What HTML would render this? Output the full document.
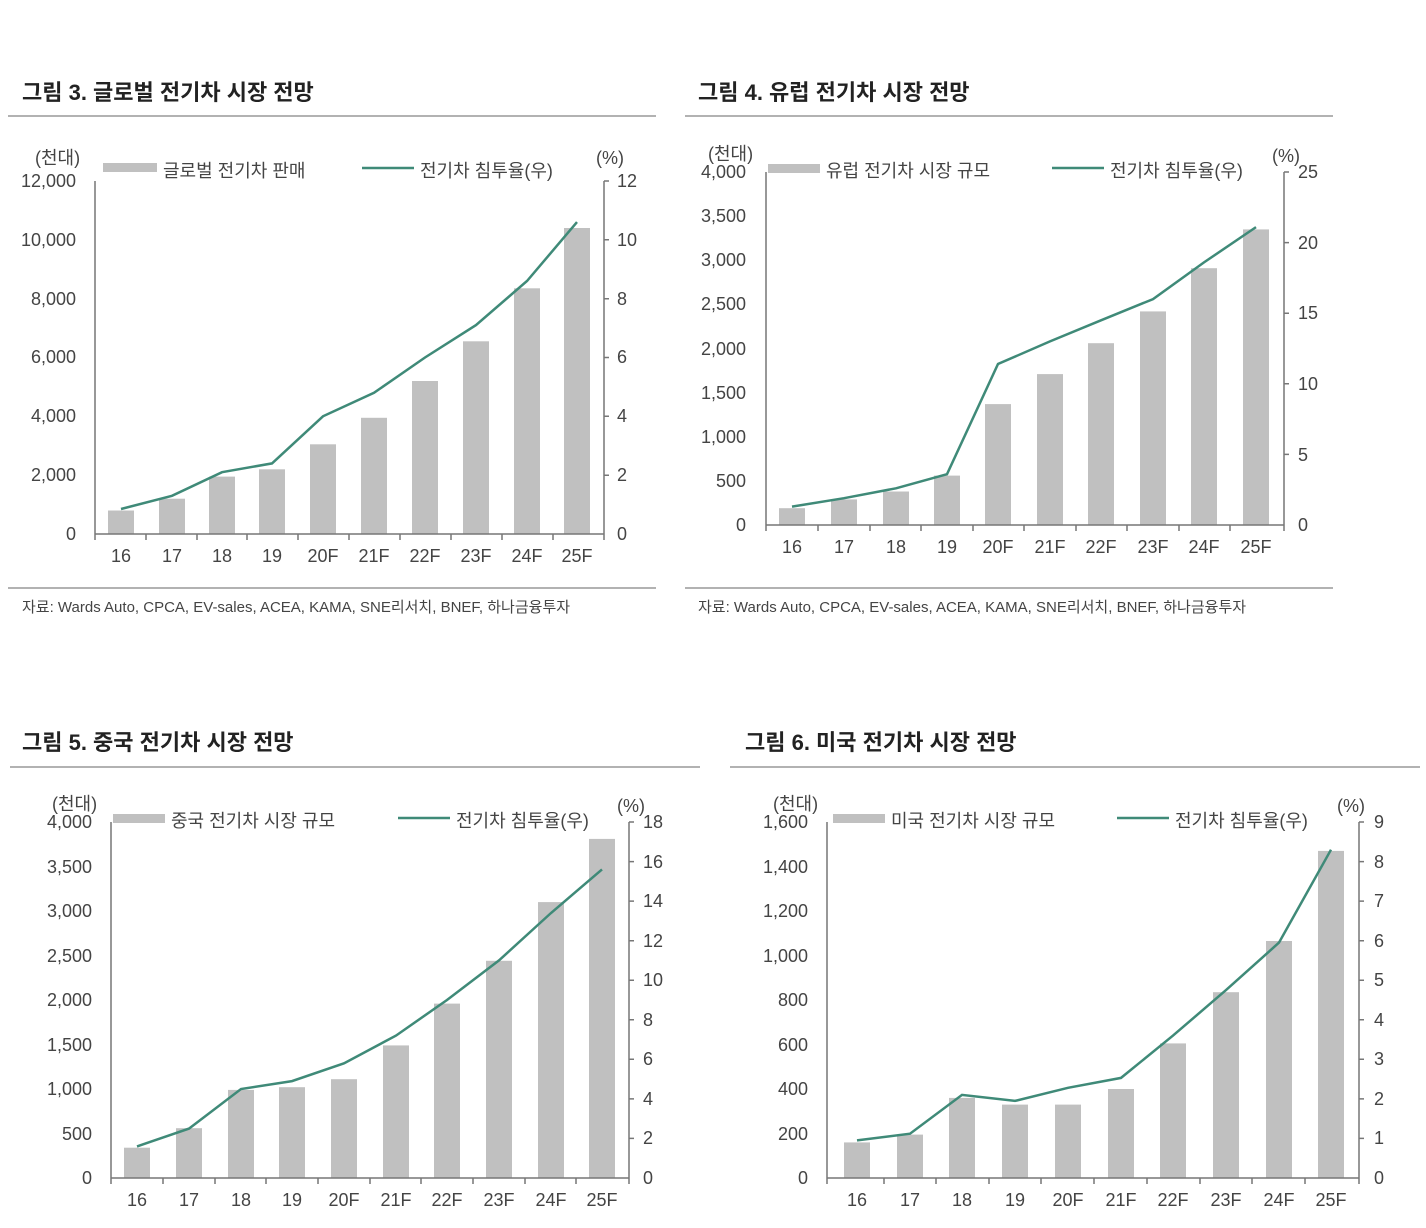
<!DOCTYPE html>
<html><head><meta charset="utf-8"><style>
html,body{margin:0;padding:0;background:#fff;}
svg{display:block;font-family:"Liberation Sans","Noto Sans CJK KR",sans-serif;}
.t{font-size:22px;font-weight:bold;fill:#222;}
.k{font-size:18px;fill:#444;}
.l{font-size:18px;fill:#444;}
.s{font-size:15px;fill:#444;}
.b{fill:#c0c0c0;}
.ln{fill:none;stroke:#3f8a78;stroke-width:2.5;}
.ax{stroke:#777;stroke-width:1.5;fill:none;}
.hr{stroke:#999;stroke-width:1.5;}
</style></head><body>
<svg width="1426" height="1228" viewBox="0 0 1426 1228" xmlns="http://www.w3.org/2000/svg">
<!-- Chart 1 -->
<text x="22" y="100" class="t">그림 3. 글로벌 전기차 시장 전망</text>
<line x1="8" y1="116" x2="656" y2="116" class="hr"/>
<text x="35" y="164" class="k" font-size="16">(천대)</text>
<text x="596" y="164" class="k" font-size="16">(%)</text>
<rect x="103" y="163" width="54" height="9" class="b"/>
<text x="163" y="177" class="l">글로벌 전기차 판매</text>
<line x1="362" y1="168" x2="414" y2="168" class="ln"/>
<text x="420" y="177" class="l">전기차 침투율(우)</text>
<g class="b">
<rect x="108" y="510.5" width="26" height="23.5"/><rect x="159" y="498.7" width="26" height="35.3"/><rect x="209" y="476.6" width="26" height="57.4"/><rect x="259" y="469.3" width="26" height="64.7"/><rect x="310" y="444.3" width="26" height="89.7"/><rect x="361" y="417.8" width="26" height="116.2"/><rect x="412" y="381" width="26" height="153"/><rect x="463" y="341.3" width="26" height="192.7"/><rect x="514" y="288.3" width="26" height="245.7"/><rect x="564" y="228" width="26" height="306"/>
</g>
<polyline class="ln" points="121,509 172,495.8 222,472.2 272,463.4 323,416.3 374,392.8 425,357.5 476,325.1 527,281 577,222.1"/>
<path class="ax" d="M95,181V534H604V181 M95,534v6 M146,534v6 M197,534v6 M247,534v6 M298,534v6 M349,534v6 M400,534v6 M451,534v6 M502,534v6 M553,534v6 M604,534v6 M604,181h5 M604,239.8h5 M604,298.7h5 M604,357.5h5 M604,416.3h5 M604,475.2h5"/>
<g class="k" text-anchor="end">
<text x="76" y="540">0</text><text x="76" y="481">2,000</text><text x="76" y="422">4,000</text><text x="76" y="363">6,000</text><text x="76" y="305">8,000</text><text x="76" y="246">10,000</text><text x="76" y="187">12,000</text>
</g>
<g class="k">
<text x="617" y="540">0</text><text x="617" y="481">2</text><text x="617" y="422">4</text><text x="617" y="363">6</text><text x="617" y="305">8</text><text x="617" y="246">10</text><text x="617" y="187">12</text>
</g>
<g class="k" text-anchor="middle">
<text x="121" y="562">16</text><text x="172" y="562">17</text><text x="222" y="562">18</text><text x="272" y="562">19</text><text x="323" y="562">20F</text><text x="374" y="562">21F</text><text x="425" y="562">22F</text><text x="476" y="562">23F</text><text x="527" y="562">24F</text><text x="577" y="562">25F</text>
</g>
<line x1="8" y1="588" x2="656" y2="588" class="hr"/>
<text x="22" y="612" class="s">자료: Wards Auto, CPCA, EV-sales, ACEA, KAMA, SNE리서치, BNEF, 하나금융투자</text>

<!-- Chart 2 -->
<text x="698" y="100" class="t">그림 4. 유럽 전기차 시장 전망</text>
<line x1="685" y1="116" x2="1333" y2="116" class="hr"/>
<text x="708" y="160" class="k" font-size="16">(천대)</text>
<text x="1272" y="162" class="k" font-size="16">(%)</text>
<rect x="768" y="164" width="52" height="9" class="b"/>
<text x="826" y="177" class="l">유럽 전기차 시장 규모</text>
<line x1="1052" y1="168" x2="1104" y2="168" class="ln"/>
<text x="1110" y="177" class="l">전기차 침투율(우)</text>
<g class="b">
<rect x="779" y="508.2" width="26" height="16.8"/><rect x="831" y="499.4" width="26" height="25.6"/><rect x="883" y="491.5" width="26" height="33.5"/><rect x="934" y="475.6" width="26" height="49.4"/><rect x="985" y="404.1" width="26" height="120.9"/><rect x="1037" y="374.1" width="26" height="150.9"/><rect x="1088" y="343.2" width="26" height="181.8"/><rect x="1140" y="311.4" width="26" height="213.6"/><rect x="1191" y="268.2" width="26" height="256.8"/><rect x="1243" y="229.4" width="26" height="295.6"/>
</g>
<polyline class="ln" points="792,506.6 844,498.2 896,488.3 947,474.2 998,364 1050,341.4 1101,320.3 1153,299.1 1204,262.4 1256,227.1"/>
<path class="ax" d="M766,172V525H1284V172 M766,525v6 M818,525v6 M870,525v6 M921,525v6 M973,525v6 M1024,525v6 M1076,525v6 M1127,525v6 M1179,525v6 M1230,525v6 M1284,525v6 M1284,172h5 M1284,242.6h5 M1284,313.2h5 M1284,383.8h5 M1284,454.4h5"/>
<g class="k" text-anchor="end">
<text x="746" y="531">0</text><text x="746" y="487">500</text><text x="746" y="443">1,000</text><text x="746" y="399">1,500</text><text x="746" y="355">2,000</text><text x="746" y="310">2,500</text><text x="746" y="266">3,000</text><text x="746" y="222">3,500</text><text x="746" y="178">4,000</text>
</g>
<g class="k">
<text x="1298" y="531">0</text><text x="1298" y="461">5</text><text x="1298" y="390">10</text><text x="1298" y="319">15</text><text x="1298" y="249">20</text><text x="1298" y="178">25</text>
</g>
<g class="k" text-anchor="middle">
<text x="792" y="553">16</text><text x="844" y="553">17</text><text x="896" y="553">18</text><text x="947" y="553">19</text><text x="998" y="553">20F</text><text x="1050" y="553">21F</text><text x="1101" y="553">22F</text><text x="1153" y="553">23F</text><text x="1204" y="553">24F</text><text x="1256" y="553">25F</text>
</g>
<line x1="685" y1="588" x2="1333" y2="588" class="hr"/>
<text x="698" y="612" class="s">자료: Wards Auto, CPCA, EV-sales, ACEA, KAMA, SNE리서치, BNEF, 하나금융투자</text>

<!-- Chart 3 -->
<text x="22" y="750" class="t">그림 5. 중국 전기차 시장 전망</text>
<line x1="10" y1="767" x2="700" y2="767" class="hr"/>
<text x="52" y="810" class="k" font-size="16">(천대)</text>
<text x="617" y="812" class="k" font-size="16">(%)</text>
<rect x="113" y="814" width="52" height="9" class="b"/>
<text x="171" y="827" class="l">중국 전기차 시장 규모</text>
<line x1="398" y1="818" x2="450" y2="818" class="ln"/>
<text x="456" y="827" class="l">전기차 침투율(우)</text>
<g class="b">
<rect x="124" y="1147.7" width="26" height="30.3"/><rect x="176" y="1128.2" width="26" height="49.8"/><rect x="228" y="1089.9" width="26" height="88.1"/><rect x="279" y="1087.2" width="26" height="90.8"/><rect x="331" y="1079.2" width="26" height="98.8"/><rect x="383" y="1045.4" width="26" height="132.6"/><rect x="434" y="1003.6" width="26" height="174.4"/><rect x="486" y="960.8" width="26" height="217.2"/><rect x="538" y="902.1" width="26" height="275.9"/><rect x="589" y="838.9" width="26" height="339.1"/>
</g>
<polyline class="ln" points="137,1146.4 189,1128.6 241,1089 292,1081.1 344,1063.3 396,1035.6 447,1000 499,960.4 551,913 602,869.4"/>
<path class="ax" d="M111,822V1178H629V822 M111,1178v6 M163,1178v6 M215,1178v6 M266,1178v6 M318,1178v6 M370,1178v6 M421,1178v6 M473,1178v6 M525,1178v6 M576,1178v6 M629,1178v6 M629,822h5 M629,861.6h5 M629,901.1h5 M629,940.7h5 M629,980.2h5 M629,1019.8h5 M629,1059.3h5 M629,1098.9h5 M629,1138.4h5"/>
<g class="k" text-anchor="end">
<text x="92" y="1184">0</text><text x="92" y="1140">500</text><text x="92" y="1095">1,000</text><text x="92" y="1051">1,500</text><text x="92" y="1006">2,000</text><text x="92" y="962">2,500</text><text x="92" y="917">3,000</text><text x="92" y="873">3,500</text><text x="92" y="828">4,000</text>
</g>
<g class="k">
<text x="643" y="1184">0</text><text x="643" y="1144">2</text><text x="643" y="1105">4</text><text x="643" y="1065">6</text><text x="643" y="1026">8</text><text x="643" y="986">10</text><text x="643" y="947">12</text><text x="643" y="907">14</text><text x="643" y="868">16</text><text x="643" y="828">18</text>
</g>
<g class="k" text-anchor="middle">
<text x="137" y="1206">16</text><text x="189" y="1206">17</text><text x="241" y="1206">18</text><text x="292" y="1206">19</text><text x="344" y="1206">20F</text><text x="396" y="1206">21F</text><text x="447" y="1206">22F</text><text x="499" y="1206">23F</text><text x="551" y="1206">24F</text><text x="602" y="1206">25F</text>
</g>

<!-- Chart 4 -->
<text x="745" y="750" class="t">그림 6. 미국 전기차 시장 전망</text>
<line x1="730" y1="767" x2="1420" y2="767" class="hr"/>
<text x="773" y="810" class="k" font-size="16">(천대)</text>
<text x="1337" y="812" class="k" font-size="16">(%)</text>
<rect x="833" y="814" width="52" height="9" class="b"/>
<text x="891" y="827" class="l">미국 전기차 시장 규모</text>
<line x1="1117" y1="818" x2="1169" y2="818" class="ln"/>
<text x="1175" y="827" class="l">전기차 침투율(우)</text>
<g class="b">
<rect x="844" y="1142.4" width="26" height="35.6"/><rect x="897" y="1134.6" width="26" height="43.4"/><rect x="949" y="1097.9" width="26" height="80.1"/><rect x="1002" y="1104.6" width="26" height="73.4"/><rect x="1055" y="1104.6" width="26" height="73.4"/><rect x="1108" y="1089" width="26" height="89"/><rect x="1160" y="1043.4" width="26" height="134.6"/><rect x="1213" y="992.2" width="26" height="185.8"/><rect x="1266" y="941" width="26" height="237"/><rect x="1318" y="850.9" width="26" height="327.1"/>
</g>
<polyline class="ln" points="857,1140.4 910,1133.7 962,1094.9 1015,1100.9 1068,1087.8 1121,1077.9 1173,1035.6 1226,990.1 1279,942.6 1331,849.7"/>
<path class="ax" d="M827,822V1178H1359V822 M827,1178v6 M884,1178v6 M936,1178v6 M989,1178v6 M1041,1178v6 M1094,1178v6 M1147,1178v6 M1200,1178v6 M1252,1178v6 M1305,1178v6 M1359,1178v6 M1359,822h5 M1359,861.6h5 M1359,901.1h5 M1359,940.7h5 M1359,980.2h5 M1359,1019.8h5 M1359,1059.3h5 M1359,1098.9h5 M1359,1138.4h5"/>
<g class="k" text-anchor="end">
<text x="808" y="1184">0</text><text x="808" y="1140">200</text><text x="808" y="1095">400</text><text x="808" y="1051">600</text><text x="808" y="1006">800</text><text x="808" y="962">1,000</text><text x="808" y="917">1,200</text><text x="808" y="873">1,400</text><text x="808" y="828">1,600</text>
</g>
<g class="k">
<text x="1374" y="1184">0</text><text x="1374" y="1144">1</text><text x="1374" y="1105">2</text><text x="1374" y="1065">3</text><text x="1374" y="1026">4</text><text x="1374" y="986">5</text><text x="1374" y="947">6</text><text x="1374" y="907">7</text><text x="1374" y="868">8</text><text x="1374" y="828">9</text>
</g>
<g class="k" text-anchor="middle">
<text x="857" y="1206">16</text><text x="910" y="1206">17</text><text x="962" y="1206">18</text><text x="1015" y="1206">19</text><text x="1068" y="1206">20F</text><text x="1121" y="1206">21F</text><text x="1173" y="1206">22F</text><text x="1226" y="1206">23F</text><text x="1279" y="1206">24F</text><text x="1331" y="1206">25F</text>
</g>
</svg>
</body></html>
